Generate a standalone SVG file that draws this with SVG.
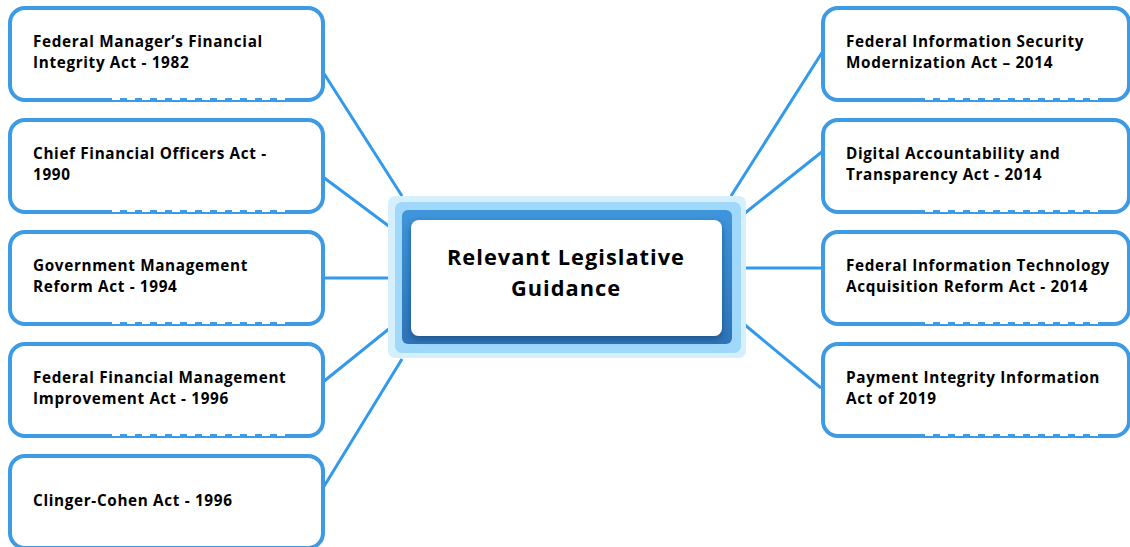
<svg xmlns="http://www.w3.org/2000/svg" width="1130" height="547" viewBox="0 0 1130 547">
<defs>
<style>
.box{fill:#fff;stroke:#3d9be5;stroke-width:4}
.notch{stroke:#fff;stroke-width:2.2;stroke-dasharray:8 7}
.lbl{font-family:"Open Sans","Noto Sans",sans-serif;font-weight:700;font-size:15.3px;letter-spacing:0.65px;fill:#000}
.ctr{font-family:"Open Sans","Noto Sans",sans-serif;font-weight:700;font-size:21.8px;letter-spacing:1px;fill:#000}
.conn{stroke:#3399ea;stroke-width:3;fill:none}
</style>
<linearGradient id="dk" x1="0" y1="0" x2="0" y2="1">
<stop offset="0" stop-color="#3f95dc"/>
<stop offset="1" stop-color="#2e74b8"/>
</linearGradient>
<filter id="sh" x="-10%" y="-10%" width="120%" height="130%">
<feDropShadow dx="0" dy="3" stdDeviation="3" flood-color="#0b3a66" flood-opacity="0.6"/>
</filter>
</defs>
<rect width="1130" height="547" fill="#fff"/>
<g id="connectors">
<line class="conn" x1="323" y1="72" x2="402" y2="196"/>
<line class="conn" x1="323" y1="177" x2="390" y2="227"/>
<line class="conn" x1="323" y1="278" x2="390" y2="278"/>
<line class="conn" x1="323" y1="382" x2="390" y2="328"/>
<line class="conn" x1="323" y1="488" x2="402" y2="359"/>
<line class="conn" x1="823" y1="51" x2="731" y2="196"/>
<line class="conn" x1="823" y1="151" x2="745" y2="213"/>
<line class="conn" x1="745" y1="268" x2="823" y2="268"/>
<line class="conn" x1="745" y1="325" x2="821" y2="388"/>
</g>
<g id="center">
<rect x="388" y="196" width="358" height="162" rx="7" fill="#d6effc"/>
<rect x="395" y="202" width="346" height="151" rx="7" fill="#9fd8fa"/>
<rect x="402" y="210" width="330" height="134" rx="6" fill="url(#dk)"/>
<rect x="411" y="220" width="311" height="116" rx="8" fill="#fff" filter="url(#sh)"/>
<text class="ctr" x="566" y="265" text-anchor="middle">Relevant Legislative</text>
<text class="ctr" x="566" y="295.5" text-anchor="middle">Guidance</text>
</g>
<g id="n1">
<rect class="box" x="10" y="8" width="313" height="92" rx="15"/>
<line class="notch" x1="112" y1="99" x2="287" y2="99"/>
<text class="lbl" x="33" y="47">Federal Manager’s Financial</text>
<text class="lbl" x="33" y="68">Integrity Act - 1982</text>
</g>
<g id="n2">
<rect class="box" x="10" y="120" width="313" height="92" rx="15"/>
<line class="notch" x1="112" y1="211" x2="287" y2="211"/>
<text class="lbl" x="33" y="159">Chief Financial Officers Act -</text>
<text class="lbl" x="33" y="180">1990</text>
</g>
<g id="n3">
<rect class="box" x="10" y="232" width="313" height="92" rx="15"/>
<line class="notch" x1="112" y1="323" x2="287" y2="323"/>
<text class="lbl" x="33" y="271">Government Management</text>
<text class="lbl" x="33" y="292">Reform Act - 1994</text>
</g>
<g id="n4">
<rect class="box" x="10" y="344" width="313" height="92" rx="15"/>
<line class="notch" x1="112" y1="435" x2="287" y2="435"/>
<text class="lbl" x="33" y="383">Federal Financial Management</text>
<text class="lbl" x="33" y="404">Improvement Act - 1996</text>
</g>
<g id="n5">
<rect class="box" x="10" y="456" width="313" height="92" rx="15"/>
<text class="lbl" x="33" y="506">Clinger-Cohen Act - 1996</text>
</g>
<g id="n6">
<rect class="box" x="823" y="8" width="306" height="92" rx="15"/>
<line class="notch" x1="925" y1="99" x2="1098" y2="99"/>
<text class="lbl" x="846" y="47">Federal Information Security</text>
<text class="lbl" x="846" y="68">Modernization Act – 2014</text>
</g>
<g id="n7">
<rect class="box" x="823" y="120" width="306" height="92" rx="15"/>
<line class="notch" x1="925" y1="211" x2="1098" y2="211"/>
<text class="lbl" x="846" y="159">Digital Accountability and</text>
<text class="lbl" x="846" y="180">Transparency Act - 2014</text>
</g>
<g id="n8">
<rect class="box" x="823" y="232" width="306" height="92" rx="15"/>
<line class="notch" x1="925" y1="323" x2="1098" y2="323"/>
<text class="lbl" x="846" y="271">Federal Information Technology</text>
<text class="lbl" x="846" y="292">Acquisition Reform Act - 2014</text>
</g>
<g id="n9">
<rect class="box" x="823" y="344" width="306" height="92" rx="15"/>
<line class="notch" x1="925" y1="435" x2="1098" y2="435"/>
<text class="lbl" x="846" y="383">Payment Integrity Information</text>
<text class="lbl" x="846" y="404">Act of 2019</text>
</g>
</svg>
